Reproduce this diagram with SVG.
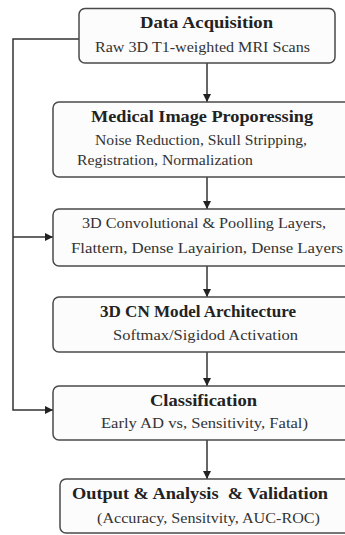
<svg xmlns="http://www.w3.org/2000/svg" width="345" height="535" viewBox="0 0 345 535">
<style>
.box{fill:#fcfcfc;stroke:#4a4a4a;stroke-width:1.5}
.t{font-family:"Liberation Serif","DejaVu Serif",serif;font-size:16.5px;font-weight:bold;fill:#222;white-space:pre}
.s{font-family:"Liberation Serif","DejaVu Serif",serif;font-size:15px;fill:#333}
.c{fill:none;stroke:#333;stroke-width:1.5}
</style>
<defs>
<marker id="ah" viewBox="0 0 10 10" refX="10" refY="5" markerWidth="8" markerHeight="8" markerUnits="userSpaceOnUse" orient="auto">
<path d="M0,0 L10,5 L0,10 z" fill="#222"/>
</marker>
</defs>
<rect width="345" height="535" fill="#ffffff"/>
<g id="connectors">
<line class="c" x1="207" y1="63" x2="207" y2="102" marker-end="url(#ah)"/>
<line class="c" x1="207" y1="177" x2="207" y2="209" marker-end="url(#ah)"/>
<line class="c" x1="207" y1="266" x2="207" y2="297" marker-end="url(#ah)"/>
<line class="c" x1="207" y1="352" x2="207" y2="386" marker-end="url(#ah)"/>
<line class="c" x1="207" y1="440" x2="207" y2="479" marker-end="url(#ah)"/>
<path class="c" d="M79,39 H13 V410 H53" marker-end="url(#ah)"/>
<path class="c" d="M13,237 H53" marker-end="url(#ah)"/>
</g>
<g id="data-acquisition">
<rect class="box" x="79" y="8.5" width="256" height="54.5" rx="6"/>
<text class="t" x="140" y="28" textLength="133" lengthAdjust="spacingAndGlyphs">Data Acquisition</text>
<text class="s" x="95" y="52" textLength="215" lengthAdjust="spacingAndGlyphs">Raw 3D T1-weighted MRI Scans</text>
</g>
<g id="preprocessing">
<rect class="box" x="53" y="102" width="300" height="75" rx="6"/>
<text class="t" x="91" y="122" textLength="222" lengthAdjust="spacingAndGlyphs">Medical Image Proporessing</text>
<text class="s" x="95" y="145" textLength="212" lengthAdjust="spacingAndGlyphs">Noise Reduction, Skull Stripping,</text>
<text class="s" x="77" y="165" textLength="176" lengthAdjust="spacingAndGlyphs">Registration, Normalization</text>
</g>
<g id="conv-layers">
<rect class="box" x="53" y="209" width="300" height="57" rx="6"/>
<text class="s" x="82" y="228" textLength="244" lengthAdjust="spacingAndGlyphs">3D Convolutional &amp; Poolling Layers,</text>
<text class="s" x="71" y="253" textLength="272" lengthAdjust="spacingAndGlyphs">Flattern, Dense Layairion, Dense Layers</text>
</g>
<g id="model-architecture">
<rect class="box" x="53" y="297" width="300" height="55" rx="6"/>
<text class="t" x="100" y="317" textLength="196" lengthAdjust="spacingAndGlyphs">3D CN Model Architecture</text>
<text class="s" x="113" y="340" textLength="185" lengthAdjust="spacingAndGlyphs">Softmax/Sigidod Activation</text>
</g>
<g id="classification">
<rect class="box" x="53" y="386" width="300" height="54" rx="6"/>
<text class="t" x="150" y="406" textLength="107" lengthAdjust="spacingAndGlyphs">Classification</text>
<text class="s" x="101" y="428" textLength="207" lengthAdjust="spacingAndGlyphs">Early AD vs, Sensitivity, Fatal)</text>
</g>
<g id="output">
<rect class="box" x="60" y="479" width="300" height="54" rx="6"/>
<text class="t" x="72" y="499" textLength="256" lengthAdjust="spacingAndGlyphs">Output &amp; Analysis  &amp; Validation</text>
<text class="s" x="97" y="523" textLength="223" lengthAdjust="spacingAndGlyphs">(Accuracy, Sensitvity, AUC-ROC)</text>
</g>
</svg>
